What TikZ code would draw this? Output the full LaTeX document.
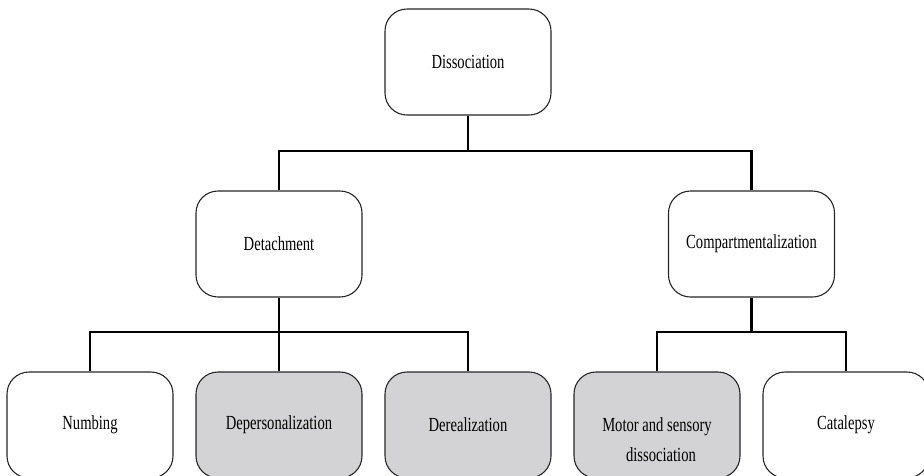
\documentclass[tikz,border=0pt]{standalone}
\usepackage{fontspec}
\setmainfont[FakeStretch=0.73]{Liberation Serif}
\definecolor{boxgray}{RGB}{211,211,213}
\begin{document}
\begin{tikzpicture}[x=1pt,y=-1pt,
  box/.style={draw=black!85, line width=1.1pt, rounded corners=22pt,
    minimum width=166pt, minimum height=106pt, inner sep=0pt, fill=white,
    font=\fontsize{20}{30}\selectfont},
  shaded/.style={box, fill=boxgray},
  caption/.style={align=center, inner sep=0pt, font=\fontsize{20}{30}\selectfont},
  link/.style={line width=2.6pt}]
\useasboundingbox (0,0) rectangle (924,475);

% top level
\node[box] (diss) at (468,62) {Dissociation};

% second level
\node[box] (det)  at (279,244) {Detachment};
\node[box] (comp) at (751.5,244) {Compartmentalization};

% third level
\node[box]    (numb)  at (90,425)  {Numbing};
\node[shaded] (depers) at (279,425) {Depersonalization};
\node[shaded] (dereal) at (468,425) {Derealization};
\node[shaded] (motor) at (657,425) {};
\node[caption] (motortext) at (657,440) {Motor and sensory\\\hspace*{8pt}dissociation};
\node[box]    (catal) at (846,425) {Catalepsy};

% junction points
\coordinate (j0) at (468,151);
\coordinate (j1) at (279,332);
\coordinate (j2) at (751.5,332);

% connectors
\draw[link] (diss.south) -- (j0);
\draw[link] (j0) -| (det.north);
\draw[link] (j0) -| (comp.north);

\draw[link] (det.south) -- (j1);
\draw[link] (j1) -| (numb.north);
\draw[link] (j1) -- (depers.north);
\draw[link] (j1) -| (dereal.north);

\draw[link] (comp.south) -- (j2);
\draw[link] (j2) -| (motor.north);
\draw[link] (j2) -| (catal.north);
\end{tikzpicture}
\end{document}
